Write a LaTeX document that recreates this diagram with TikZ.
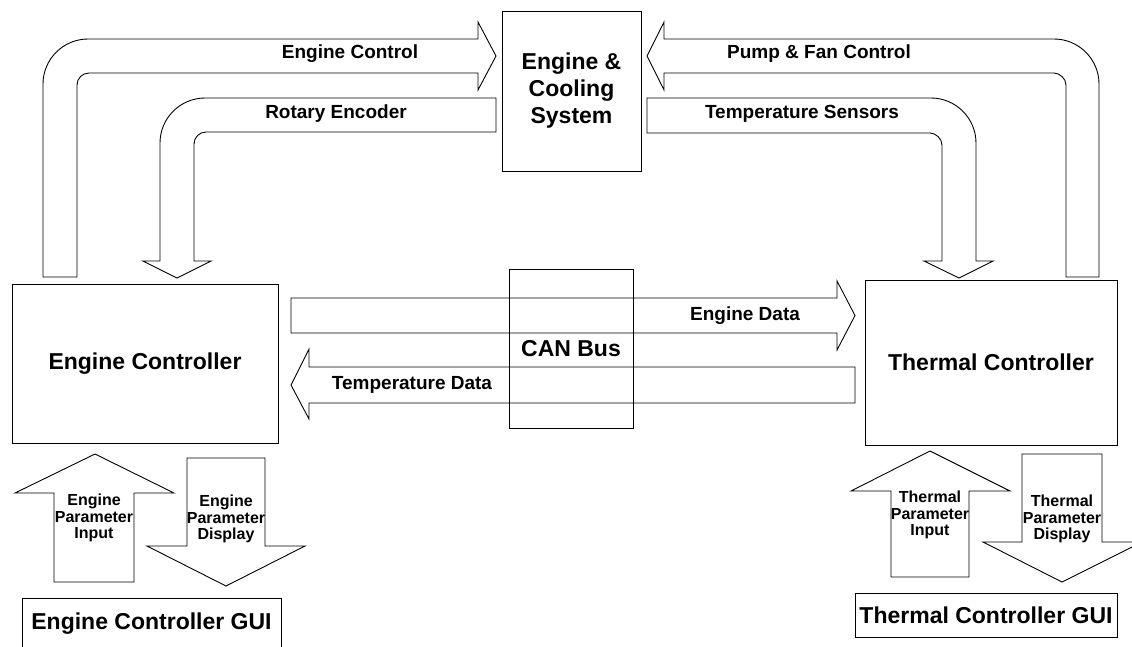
\documentclass[tikz,border=0pt]{standalone}
\usepackage{fontspec}
\setmainfont{Liberation Sans}
\begin{document}
\begin{tikzpicture}[x=1pt,y=-1pt,
  box/.style={draw=black,line width=0.9pt,inner sep=0pt,align=center,font=\fontsize{23}{27}\selectfont\bfseries},
  blk/.style={draw=black,line width=0.9pt,line join=miter},
  lbl/.style={inner sep=0pt,font=\fontsize{19}{22}\selectfont\bfseries},
  sml/.style={inner sep=0pt,align=center,font=\fontsize{16}{16.8}\selectfont\bfseries}]
\useasboundingbox (0,0) rectangle (1132,646);
% boxes
\node[box,minimum width=139pt,minimum height=160pt] (ecs) at (571.5,91) {Engine \&\\Cooling\\System};
\node[box,minimum width=266pt,minimum height=159pt] (ec) at (145,363.5) {Engine Controller};
\node[box,minimum width=252pt,minimum height=165pt] (tc) at (991,362.5) {Thermal Controller};
\node[box,minimum width=124pt,minimum height=159pt] (can) at (571,348.5) {CAN Bus};
\node[box,minimum width=259pt,minimum height=51pt] (egui) at (151.5,623.5) {Engine Controller GUI};
\node[box,minimum width=262pt,minimum height=44pt] (tgui) at (986,615) {Thermal Controller GUI};
% Engine Control
\draw[blk] (43,277) -- (43,84) .. controls (43,59.2) and (63.2,39) .. (88,39) -- (478,39) -- (478,22) -- (496,56) -- (478,90) -- (478,73) -- (89,73) .. controls (82.4,73) and (77,78.4) .. (77,85) -- (77,277) -- cycle;
\node[lbl] (lec) at (350,54) {Engine Control};
% Rotary Encoder
\draw[blk] (496,98) -- (205,98) .. controls (180.2,98) and (160,118.2) .. (160,143) -- (160,261) -- (143,261) -- (177,278) -- (211,261) -- (194,261) -- (194,144) .. controls (194,137.4) and (199.4,132) .. (206,132) -- (496,132) -- cycle;
\node[lbl] (lre) at (336,114) {Rotary Encoder};
% Pump & Fan Control
\draw[blk] (1099,277) -- (1099,84) .. controls (1099,59.2) and (1078.8,39) .. (1054,39) -- (664,39) -- (664,22) -- (647,56) -- (664,90) -- (664,73) -- (1054,73) .. controls (1059.4,73) and (1066,78.4) .. (1066,85) -- (1066,277) -- cycle;
\node[lbl] (lpf) at (819,54) {Pump \& Fan Control};
% Temperature Sensors
\draw[blk] (647,98) -- (931,98) .. controls (955.8,98) and (976,118.2) .. (976,143) -- (976,261) -- (993,261) -- (959,278) -- (924,261) -- (942,261) -- (942,145) .. controls (942,138.4) and (935.4,133) .. (930,133) -- (647,133) -- cycle;
\node[lbl] (lts) at (802,114) {Temperature Sensors};
% CAN data arrows
\draw[blk] (291,298) -- (837,298) -- (837,281) -- (855,315.5) -- (837,350) -- (837,333) -- (291,333) -- cycle;
\node[lbl] (led) at (745,316) {Engine Data};
\draw[blk] (855,367) -- (309,367) -- (309,349) -- (291,385) -- (309,419) -- (309,403) -- (855,403) -- cycle;
\node[lbl] (ltd) at (412,385) {Temperature Data};
% GUI arrows
\draw[blk] (54,582) -- (54,493) -- (15,493) -- (95,454) -- (174,493) -- (134,493) -- (134,582) -- cycle;
\node[sml] (lepi) at (94,518) {Engine\\Parameter\\Input};
\draw[blk] (187,458) -- (265,458) -- (265,546) -- (305,546) -- (226,586) -- (147,546) -- (187,546) -- cycle;
\node[sml] (lepd) at (226,519) {Engine\\Parameter\\Display};
\draw[blk] (891,577) -- (891,491) -- (851,491) -- (930,451) -- (1010,491) -- (969,491) -- (969,577) -- cycle;
\node[sml] (ltpi) at (930,515) {Thermal\\Parameter\\Input};
\draw[blk] (1022,454) -- (1102,454) -- (1102,542) -- (1142,542) -- (1062,582) -- (983,542) -- (1022,542) -- cycle;
\node[sml] (ltpd) at (1062,519) {Thermal\\Parameter\\Display};
\end{tikzpicture}
\end{document}
